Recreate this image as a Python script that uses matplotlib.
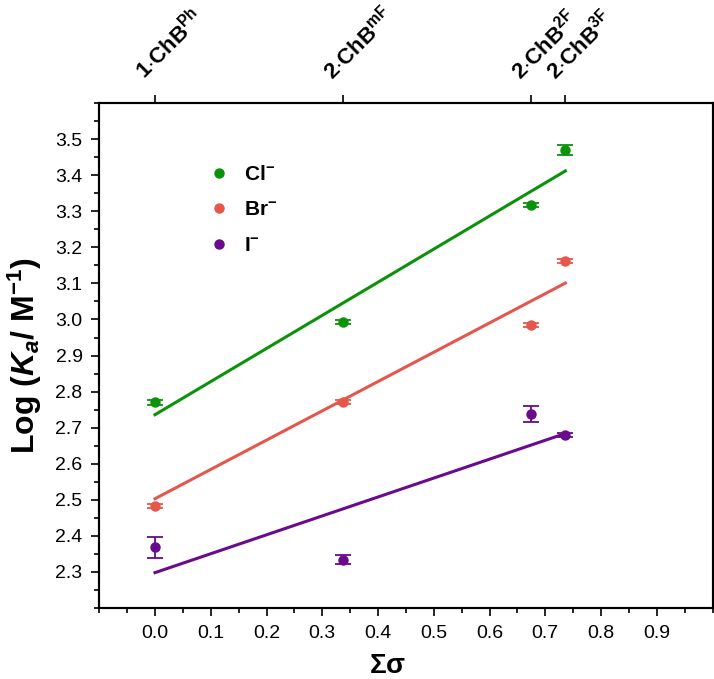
import numpy as np
import matplotlib
matplotlib.use('Agg')
import matplotlib.pyplot as plt
import matplotlib.transforms as mtransforms
from matplotlib.ticker import MultipleLocator

plt.rcParams['font.family'] = ['Liberation Sans', 'DejaVu Sans']
plt.rcParams['mathtext.fontset'] = 'custom'
plt.rcParams['mathtext.rm'] = 'Liberation Sans:bold'
plt.rcParams['mathtext.it'] = 'Liberation Sans:bold:italic'
plt.rcParams['mathtext.bf'] = 'Liberation Sans:bold'

# ---------------------------------------------------------------------------
# Data
# ---------------------------------------------------------------------------
sigma = [0.0, 0.337, 0.674, 0.736]
top_labels = [r'1$\cdot$ChB$^{\mathrm{Ph}}$', r'2$\cdot$ChB$^{\mathrm{mF}}$',
              r'2$\cdot$ChB$^{\mathrm{2F}}$', r'2$\cdot$ChB$^{\mathrm{3F}}$']

cl_vals = [2.770, 2.993, 3.317, 3.470]
cl_err = [0.006, 0.005, 0.005, 0.014]
br_vals = [2.482, 2.772, 2.985, 3.163]
br_err = [0.006, 0.005, 0.006, 0.006]
i_vals = [2.368, 2.334, 2.737, 2.679]
i_err = [0.030, 0.013, 0.022, 0.006]

# linear fits, endpoints at sigma = 0 and sigma = 0.736
fit_x = [0.0, 0.736]
cl_fit = [2.736, 3.412]
br_fit = [2.503, 3.101]
i_fit = [2.298, 2.684]

COLORS = {'Cl': '#0A930A', 'Br': '#E5574C', 'I': '#6A0A8C'}

fig = plt.figure(figsize=(7.14, 6.79), dpi=100)
ax = fig.add_axes([0.139, 0.1046, 0.859, 0.7435])

series = [
    (r'Cl$^{\mathbf{-}}$', cl_vals, cl_err, cl_fit, COLORS['Cl']),
    (r'Br$^{\mathbf{-}}$', br_vals, br_err, br_fit, COLORS['Br']),
    (r'I$^{\mathbf{-}}$', i_vals, i_err, i_fit, COLORS['I']),
]
handles = []
for label, vals, err, fit, col in series:
    ax.plot(fit_x, fit, color=col, lw=2.2, zorder=2)
    ax.errorbar(sigma, vals, yerr=err, fmt='o', color=col, ms=6.5,
                capsize=6, elinewidth=1.3, capthick=1.3, zorder=3)
    h, = ax.plot([], [], 'o', color=col, ms=6.5, label=label)
    handles.append(h)

ax.set_xlim(-0.1, 1.0)
ax.set_ylim(2.2, 3.6)
ax.xaxis.set_minor_locator(MultipleLocator(0.05))
ax.yaxis.set_minor_locator(MultipleLocator(0.05))
ax.set_xticks(np.arange(0.0, 0.95, 0.1))
ax.set_yticks(np.arange(2.3, 3.55, 0.1))
ax.xaxis.set_major_formatter(plt.FormatStrFormatter('%.1f'))
ax.yaxis.set_major_formatter(plt.FormatStrFormatter('%.1f'))
ax.tick_params(which='major', direction='out', length=6, width=1.2,
               labelsize=14, pad=6)
ax.tick_params(which='minor', direction='out', length=3.5, width=1.2)
ax.tick_params(top=False, right=False)
for sp in ax.spines.values():
    sp.set_linewidth(1.5)

ax.set_xlabel(r'$\mathbf{\Sigma\sigma}$', fontsize=20, labelpad=8)
ax.xaxis.set_label_coords(0.47, -0.09)
ax.set_ylabel(r'Log ($K_a$/ M$^{-1}$)', fontsize=23, fontweight='bold',
              labelpad=8)

# top axis with the compound labels
ax2 = ax.twiny()
ax2.set_xlim(ax.get_xlim())
ax2.set_xticks(sigma)
ax2.set_xticklabels(top_labels)
ax2.tick_params(axis='x', direction='out', length=6, width=1.2,
                labelsize=16, pad=2)
offset = mtransforms.ScaledTranslation(-10 / 100, 12 / 100,
                                       fig.dpi_scale_trans)
for lab in ax2.get_xticklabels():
    lab.set_rotation(45)
    lab.set_rotation_mode('anchor')
    lab.set_ha('left')
    lab.set_va('baseline')
    lab.set_fontweight('bold')
    lab.set_transform(lab.get_transform() + offset)
for sp in ax2.spines.values():
    sp.set_linewidth(1.5)

ax.legend(handles=handles, loc='upper left',
          bbox_to_anchor=(0.145, 0.915), frameon=False,
          prop={'size': 15, 'weight': 'bold'}, handletextpad=0.6,
          labelspacing=0.8, handlelength=1.2)

fig.savefig('out.png', dpi=100)
